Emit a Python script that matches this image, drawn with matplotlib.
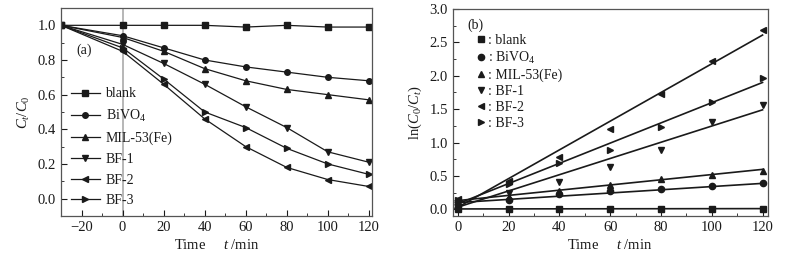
import numpy as np
import matplotlib
matplotlib.use("Agg")
import matplotlib.pyplot as plt
from matplotlib.ticker import MultipleLocator

plt.rcParams['font.family'] = ['Liberation Serif', 'DejaVu Serif']
plt.rcParams['mathtext.fontset'] = 'custom'
plt.rcParams['mathtext.rm'] = 'Liberation Serif'
plt.rcParams['mathtext.it'] = 'Liberation Serif:italic'

##data
labels = ['blank', 'BiVO$_4$', 'MIL-53(Fe)', 'BF-1', 'BF-2', 'BF-3']
markers = ['s', 'o', '^', 'v', '<', '>']

t_a = [-30, 0, 20, 40, 60, 80, 100, 120]
blank_a = [1.0, 1.0, 1.0, 1.0, 0.99, 1.0, 0.99, 0.99]
bivo4_a = [1.0, 0.94, 0.87, 0.80, 0.76, 0.73, 0.70, 0.68]
mil_a = [1.0, 0.93, 0.85, 0.75, 0.68, 0.63, 0.60, 0.57]
bf1_a = [1.0, 0.89, 0.78, 0.66, 0.53, 0.41, 0.27, 0.21]
bf2_a = [1.0, 0.85, 0.66, 0.46, 0.30, 0.18, 0.11, 0.07]
bf3_a = [1.0, 0.87, 0.69, 0.50, 0.41, 0.29, 0.20, 0.14]

t_b = [0, 20, 40, 60, 80, 100, 120]
blank_b = [0.0, 0.0, 0.0, 0.01, 0.0, 0.01, 0.01]
bivo4_b = [0.06, 0.14, 0.23, 0.27, 0.31, 0.35, 0.39]
mil_b = [0.08, 0.19, 0.28, 0.37, 0.46, 0.52, 0.57]
bf1_b = [0.12, 0.24, 0.41, 0.63, 0.89, 1.31, 1.56]
bf2_b = [0.16, 0.43, 0.78, 1.21, 1.72, 2.22, 2.69]
bf3_b = [0.14, 0.38, 0.69, 0.89, 1.24, 1.61, 1.97]

# fitted lines (slope, intercept) as drawn
fit_k = [0.00004, 0.0024, 0.0039, 0.01215, 0.0215, 0.01514]
fit_b = [0.005, 0.10, 0.13, 0.032, 0.03, 0.083]

data_a = [blank_a, bivo4_a, mil_a, bf1_a, bf2_a, bf3_a]
data_b = [blank_b, bivo4_b, mil_b, bf1_b, bf2_b, bf3_b]

ink = '#1a1a1a'
fig = plt.figure(figsize=(7.93, 2.58), dpi=100)

###panel (a)
ax1 = fig.add_axes([0.077, 0.163, 0.392, 0.806])
ax1.axvline(0, color='#aaaaaa', lw=1.2, zorder=0)
for i in range(6):
    ax1.plot(t_a, data_a[i], color=ink, lw=0.9, marker=markers[i], ms=4, label=labels[i])
ax1.set_xlim(-30, 121.5)
ax1.set_ylim(-0.1, 1.1)
ax1.xaxis.set_major_locator(MultipleLocator(20))
ax1.xaxis.set_minor_locator(MultipleLocator(10))
ax1.yaxis.set_major_locator(MultipleLocator(0.2))
ax1.yaxis.set_minor_locator(MultipleLocator(0.1))
ax1.yaxis.set_major_formatter(plt.FormatStrFormatter('%.1f'))
ax1.set_xlabel('Time     $\\mathit{t}$ /min', fontsize=10.5, color=ink, labelpad=3)
ax1.set_ylabel('$\\mathit{C}_t/\\mathit{C}_0$', fontsize=10.5, color=ink, labelpad=4)
ax1.text(0.05, 0.78, '(a)', transform=ax1.transAxes, fontsize=10, color=ink)
leg1 = ax1.legend(loc='lower left', bbox_to_anchor=(0.0, -0.005), frameon=False, fontsize=10,
                  handlelength=2.1, handletextpad=0.4, labelspacing=0.55, borderaxespad=0.3)
for tx in leg1.get_texts():
    tx.set_color(ink)

###panel (b)
ax2 = fig.add_axes([0.571, 0.163, 0.397, 0.802])
tt = np.array([-1, 120])
for i in range(6):
    ax2.plot(t_b, data_b[i], color=ink, ls='none', marker=markers[i], ms=4.5, label=': ' + labels[i])
    ax2.plot(tt, fit_k[i] * tt + fit_b[i], color=ink, lw=1.2)
ax2.set_xlim(-2, 122)
ax2.set_ylim(-0.1, 3.0)
ax2.xaxis.set_major_locator(MultipleLocator(20))
ax2.xaxis.set_minor_locator(MultipleLocator(10))
ax2.yaxis.set_major_locator(MultipleLocator(0.5))
ax2.yaxis.set_minor_locator(MultipleLocator(0.25))
ax2.yaxis.set_major_formatter(plt.FormatStrFormatter('%.1f'))
ax2.set_xlabel('Time     $\\mathit{t}$ /min', fontsize=10.5, color=ink, labelpad=3)
ax2.set_ylabel('ln($\\mathit{C}_0/\\mathit{C}_t$)', fontsize=10.5, color=ink, labelpad=4)
ax2.text(0.045, 0.905, '(b)', transform=ax2.transAxes, fontsize=10, color=ink)
leg2 = ax2.legend(loc='upper left', bbox_to_anchor=(0.06, 0.905), frameon=False, fontsize=10,
                  handlelength=0.6, handletextpad=0.2, labelspacing=0.2, borderaxespad=0.0)
for tx in leg2.get_texts():
    tx.set_color(ink)

for ax in [ax1, ax2]:
    ax.tick_params(which='both', direction='in', colors=ink, labelsize=10.5, top=False, right=False)
    ax.tick_params(which='major', length=4)
    ax.tick_params(which='minor', length=2)
    for s in ax.spines.values():
        s.set_color('#555555')
        s.set_linewidth(0.9)

plt.savefig('out.png', dpi=100)
